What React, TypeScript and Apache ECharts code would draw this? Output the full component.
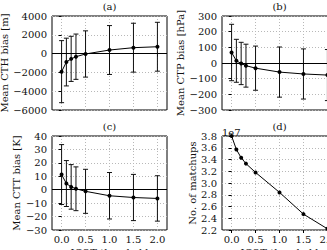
import React, { useEffect, useRef } from "react";
import * as echarts from "echarts";

const xs = [0.0, 0.1, 0.2, 0.3, 0.5, 1.0, 1.5, 2.0];
const xTicks = [0, 0.5, 1, 1.5, 2];
const cthMean = [-1920, -900, -560, -330, -40, 380, 630, 730];
const cthErr = [3300, 2540, 2400, 2410, 2460, 2600, 2600, 2600];
const ctpMean = [67, 14, -3, -17, -33, -58, -70, -77];
const ctpErr = [180, 137, 135, 137, 141, 160, 160, 163];
const cttMean = [11.3, 4.6, 2.1, 0.7, -1.2, -4.5, -5.8, -6.5];
const cttErr = [22.3, 17.1, 16.6, 16.3, 16.4, 17.3, 17.2, 16.9];
const matchups = [3.8e7, 3.57e7, 3.43e7, 3.33e7, 3.18e7, 2.84e7, 2.47e7, 2.22e7];
const titles = ["(a)", "(b)", "(c)", "(d)"];
const yNames = ["Mean CTH bias [m]", "Mean CTP bias [hPa]", "Mean CTT bias [K]", "No. of matchups"];
const xName = "ICOT threshold";

const FONT = "DejaVu Serif";
const minus = (s: string) => s.replace("-", "\u2212");

export default function App() {
  const ref = useRef<HTMLDivElement>(null);
  useEffect(() => {
    document.body.style.margin = "0";
    const chart = echarts.init(ref.current!, null, { renderer: "svg" });
    const grids = [
      { left: 52, top: 16, width: 115, height: 94 },
      { left: 222, top: 16, width: 115, height: 94 },
      { left: 52, top: 136, width: 115, height: 94 },
      { left: 222, top: 136, width: 115, height: 94 },
    ].map((g) => ({
      ...g,
      show: true,
      borderColor: "#000",
      borderWidth: 1,
      backgroundColor: "transparent",
      containLabel: false,
      outerBoundsMode: "none",
    }));

    const gridLine = { show: true, lineStyle: { color: "#b8b8b8", type: [1, 2] as any, width: 1 } };

    const xAxes = [0, 1, 2, 3].map((i) => ({
      type: "value" as const,
      gridIndex: i,
      min: -0.2,
      max: 2.2,
      axisLine: { show: false },
      axisTick: { show: true, customValues: xTicks, length: 3, inside: false, lineStyle: { color: "#000" } },
      splitLine: gridLine,
      axisLabel: {
        show: i >= 2,
        customValues: xTicks,
        fontFamily: FONT,
        fontSize: 10,
        color: "#111",
        margin: 4,
        formatter: (v: number) => v.toFixed(1),
      },
      name: i >= 2 ? xName : "",
      nameLocation: "middle" as const,
      nameGap: 17,
      nameTextStyle: { fontFamily: FONT, fontSize: 10, color: "#111", verticalAlign: "top" },
    }));

    const yCfg = [
      { min: -6000, max: 4000, interval: 2000, gap: 39, fmt: (v: number) => minus(String(v)) },
      { min: -300, max: 300, interval: 100, gap: 35, fmt: (v: number) => minus(String(v)) },
      { min: -30, max: 40, interval: 10, gap: 26, fmt: (v: number) => minus(String(v)) },
      { min: 2.2e7, max: 3.8e7, interval: 2e6, gap: 25, fmt: (v: number) => (v / 1e7).toFixed(1) },
    ];
    const yAxes = yCfg.map((c, i) => ({
      type: "value" as const,
      gridIndex: i,
      min: c.min,
      max: c.max,
      interval: c.interval,
      axisLine: { show: false },
      axisTick: { show: true, length: 3, inside: false, lineStyle: { color: "#000" } },
      splitLine: gridLine,
      axisLabel: { fontFamily: FONT, fontSize: 10, color: "#111", margin: 5, formatter: c.fmt },
      name: yNames[i],
      nameLocation: "middle" as const,
      nameGap: c.gap,
      nameTextStyle: { fontFamily: FONT, fontSize: 10, color: "#111" },
    }));

    const errSeries = (i: number, mean: number[], err: number[]) => ({
      type: "custom" as const,
      xAxisIndex: i,
      yAxisIndex: i,
      encode: { x: 0, y: 1 },
      data: xs.map((x, k) => [x, mean[k], err[k]]),
      renderItem: (params: any, api: any) => {
        const x = api.value(0);
        const m = api.value(1);
        const e = api.value(2);
        const t = api.coord([x, m + e]);
        const b = api.coord([x, m - e]);
        const w = 2.5;
        const st = { stroke: "#111", lineWidth: 1 };
        return {
          type: "group",
          children: [
            { type: "line", shape: { x1: t[0], y1: t[1], x2: b[0], y2: b[1] }, style: st },
            { type: "line", shape: { x1: t[0] - w, y1: t[1], x2: t[0] + w, y2: t[1] }, style: st },
            { type: "line", shape: { x1: b[0] - w, y1: b[1], x2: b[0] + w, y2: b[1] }, style: st },
          ],
        };
      },
      z: 3,
    });

    const lineSeries = (i: number, vals: number[], zero: boolean) => ({
      type: "line" as const,
      xAxisIndex: i,
      yAxisIndex: i,
      data: xs.map((x, k) => [x, vals[k]]),
      symbol: "circle",
      symbolSize: 4,
      showSymbol: true,
      itemStyle: { color: "#000" },
      lineStyle: { color: "#000", width: 1 },
      z: 4,
      markLine: zero
        ? {
            silent: true,
            symbol: "none",
            label: { show: false },
            lineStyle: { color: "#000", type: "solid", width: 1 },
            data: [{ yAxis: 0 }],
          }
        : undefined,
    });

    const titleCenters = [
      [109.5, 1],
      [279.5, 1],
      [109.5, 121],
      [279.5, 121],
    ];

    chart.setOption({
      animation: false,
      grid: grids,
      xAxis: xAxes,
      yAxis: yAxes,
      title: titles.map((t, i) => ({
        text: t,
        left: titleCenters[i][0],
        top: titleCenters[i][1],
        textAlign: "center",
        padding: 0,
        textStyle: { fontFamily: FONT, fontSize: 10, fontWeight: "normal", color: "#111" },
      })),
      graphic: [
        {
          type: "text",
          left: 222,
          top: 127,
          style: { text: "1e7", fontFamily: FONT, fontSize: 10, fill: "#111" },
        },
      ],
      series: [
        errSeries(0, cthMean, cthErr),
        lineSeries(0, cthMean, true),
        errSeries(1, ctpMean, ctpErr),
        lineSeries(1, ctpMean, true),
        errSeries(2, cttMean, cttErr),
        lineSeries(2, cttMean, true),
        lineSeries(3, matchups, false),
      ],
    });
    return () => chart.dispose();
  }, []);
  return <div ref={ref} style={{ width: 327, height: 250 }} />;
}
